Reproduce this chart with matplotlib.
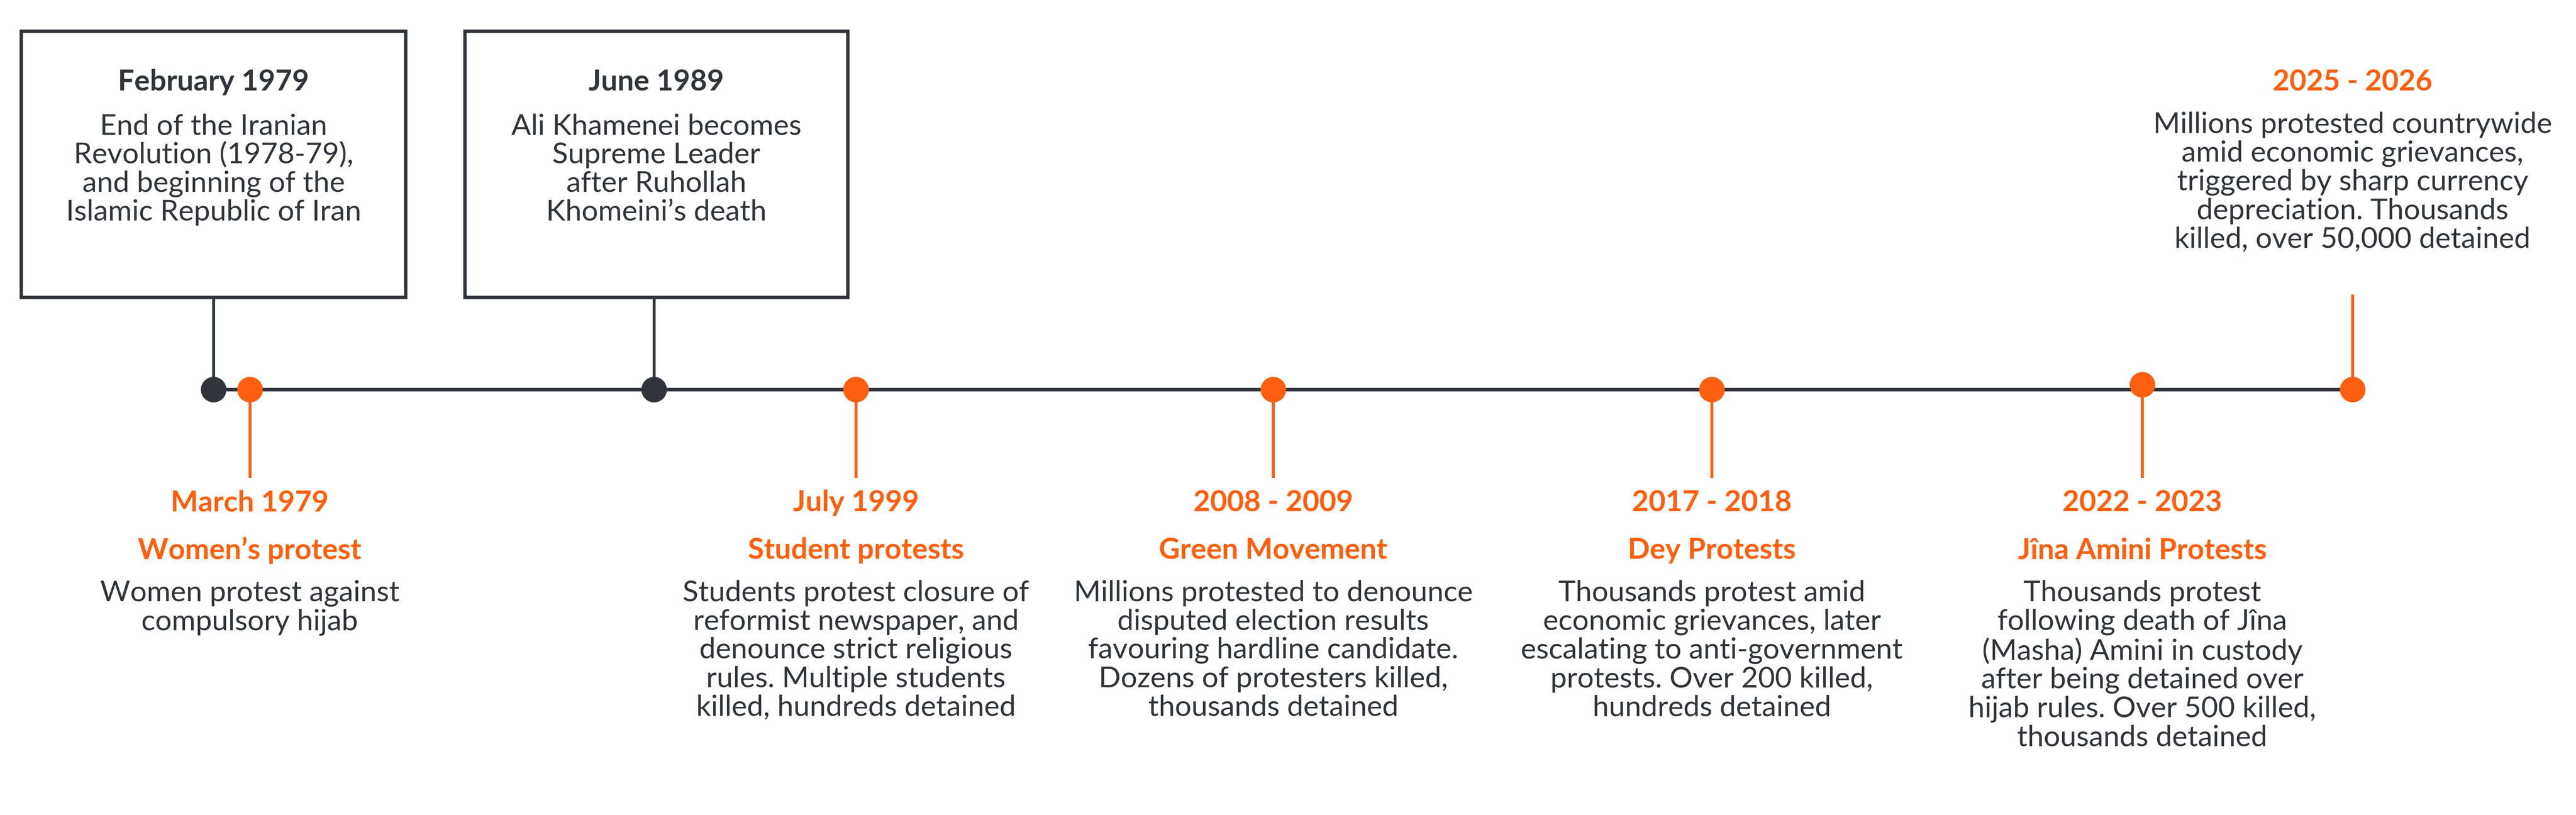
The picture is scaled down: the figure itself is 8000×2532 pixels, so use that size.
import matplotlib
matplotlib.use("Agg")
import matplotlib.pyplot as plt
from matplotlib.patches import Rectangle

plt.rcParams["font.family"] = ["Lato", "DejaVu Sans"]

ORANGE = "#FF5F0F"
DARK = "#33343B"

# timeline positions (layout units, 1568 wide)
dark_x = [130, 398]
dark_dates = ["February 1979", "June 1989"]
dark_texts = [
    "End of the Iranian\nRevolution (1978-79),\nand beginning of the\nIslamic Republic of Iran",
    "Ali Khamenei becomes\nSupreme Leader\nafter Ruhollah\nKhomeini\u2019s death",
]
box_x = [(13, 247), (283, 516)]

low_x = [152, 521, 775, 1042, 1304]
low_dates = ["March 1979", "July 1999", "2008 - 2009", "2017 - 2018", "2022 - 2023"]
low_titles = ["Women\u2019s protest", "Student protests", "Green Movement",
              "Dey Protests", "J\u00eena Amini Protests"]
low_texts = [
    "Women protest against\ncompulsory hijab",
    "Students protest closure of\nreformist newspaper, and\ndenounce strict religious\nrules. Multiple students\nkilled, hundreds detained",
    "Millions protested to denounce\ndisputed election results\nfavouring hardline candidate.\nDozens of protesters killed,\nthousands detained",
    "Thousands protest amid\neconomic grievances, later\nescalating to anti-government\nprotests. Over 200 killed,\nhundreds detained",
    "Thousands protest\nfollowing death of J\u00eena\n(Masha) Amini in custody\nafter being detained over\nhijab rules. Over 500 killed,\nthousands detained",
]

top_x = 1432
top_date = "2025 - 2026"
top_text = "Millions protested countrywide\namid economic grievances,\ntriggered by sharp currency\ndepreciation. Thousands\nkilled, over 50,000 detained"

LINE_Y = 237
FS = 13
LS = 1.1

fig = plt.figure(figsize=(16, 5.064), dpi=500)
ax = fig.add_axes([0, 0, 1, 1])
ax.set_xlim(0, 1568)
ax.set_ylim(496, 0)
ax.axis("off")

ax.plot([dark_x[0], top_x], [LINE_Y, LINE_Y], color=DARK, lw=1.6, zorder=1)

for x, (x0, x1), d, t in zip(dark_x, box_x, dark_dates, dark_texts):
    ax.add_patch(Rectangle((x0, 19), x1 - x0, 162, fill=False, ec=DARK, lw=1.5))
    ax.plot([x, x], [181, LINE_Y], color=DARK, lw=1.3, zorder=1)
    ax.scatter([x], [LINE_Y], s=130, color=DARK, zorder=3, lw=0)
    cx = (x0 + x1) / 2
    ax.text(cx, 50, d, ha="center", va="center", fontsize=FS, fontweight="bold", color=DARK)
    ax.text(cx, 69, t, ha="center", va="top", fontsize=FS, color=DARK, linespacing=LS)

for i, (x, d, ti, t) in enumerate(zip(low_x, low_dates, low_titles, low_texts)):
    y = 234 if i == 4 else LINE_Y
    ax.plot([x, x], [y, 290], color=ORANGE, lw=1.3, zorder=1)
    ax.scatter([x], [y], s=130, color=ORANGE, zorder=3, lw=0)
    ax.text(x, 306, d, ha="center", va="center", fontsize=FS, fontweight="bold", color=ORANGE)
    ax.text(x, 335, ti, ha="center", va="center", fontsize=FS, fontweight="bold", color=ORANGE)
    ax.text(x, 353, t, ha="center", va="top", fontsize=FS, color=DARK, linespacing=LS)

ax.plot([top_x, top_x], [180, LINE_Y], color=ORANGE, lw=1.3, zorder=1)
ax.scatter([top_x], [LINE_Y], s=130, color=ORANGE, zorder=3, lw=0)
ax.text(top_x, 50, top_date, ha="center", va="center", fontsize=FS, fontweight="bold", color=ORANGE)
ax.text(top_x, 68, top_text, ha="center", va="top", fontsize=FS, color=DARK, linespacing=LS)

fig.savefig("out.png", dpi=500)
